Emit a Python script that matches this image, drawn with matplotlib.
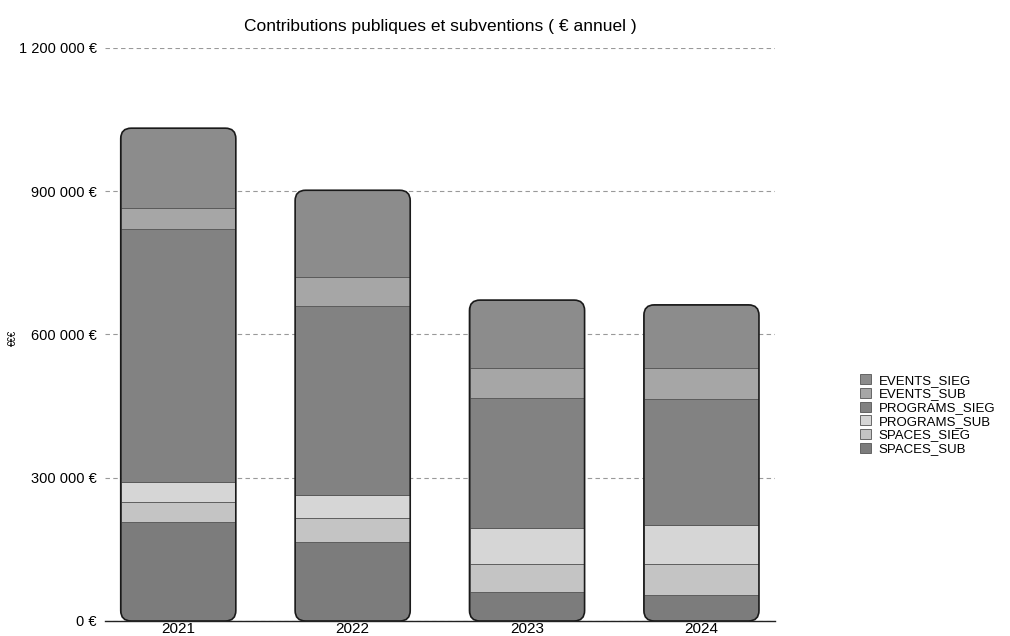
import numpy as np
import matplotlib
matplotlib.use("Agg")
import matplotlib.pyplot as plt
from matplotlib.patches import FancyBboxPatch

plt.rcParams['font.family'] = ['Liberation Sans', 'DejaVu Sans']

years = ["2021", "2022", "2023", "2024"]
# stacked bottom -> top
series_names = ["SPACES_SUB", "SPACES_SIEG", "PROGRAMS_SUB", "PROGRAMS_SIEG", "EVENTS_SUB", "EVENTS_SIEG"]
spaces_sub = [207000, 165000, 60000, 55000]
spaces_sieg = [43000, 50000, 60000, 65000]
programs_sub = [41000, 49000, 75000, 80000]
programs_sieg = [529000, 396000, 272000, 265000]
events_sub = [45000, 60000, 63000, 65000]
events_sieg = [167000, 182000, 142000, 132000]
series_values = [spaces_sub, spaces_sieg, programs_sub, programs_sieg, events_sub, events_sieg]
series_colors = ["#7c7c7c", "#c4c4c4", "#d6d6d6", "#828282", "#a6a6a6", "#8c8c8c"]
yticks = [0, 300000, 600000, 900000, 1200000]
ytick_labels = ["0 €", "300 000 €", "600 000 €", "900 000 €", "1 200 000 €"]
title = "Contributions publiques et subventions ( € annuel )"

fig = plt.figure(figsize=(10.1, 6.36), dpi=100)
ax = fig.add_axes([0.104, 0.0236, 0.663, 0.901])
x = np.arange(len(years))
width = 0.66
ax.set_xlim(-0.42, 3.42)
ax.set_ylim(0, 1200000)

# aspect (data y per data x in display)
bbox = ax.get_position()
w_px = bbox.width * fig.get_figwidth() * fig.dpi
h_px = bbox.height * fig.get_figheight() * fig.dpi
x_per_px = (3.42 + 0.42) / w_px
y_per_px = 1200000 / h_px
aspect = y_per_px / x_per_px

totals = np.sum(np.array(series_values), axis=0)
clips = []
for i in range(len(years)):
    p = FancyBboxPatch((x[i] - width / 2, 0), width, totals[i],
                       boxstyle="round,pad=0,rounding_size=0.06",
                       mutation_aspect=aspect, transform=ax.transData,
                       facecolor="none", edgecolor="#1a1a1a", linewidth=1.2, zorder=4)
    ax.add_patch(p)
    clips.append(p)

bottom = np.zeros(len(years))
handles = []
for name, vals, col in zip(series_names, series_values, series_colors):
    bars = ax.bar(x, vals, width, bottom=bottom, color=col, edgecolor="#555555",
                  linewidth=0.6, label=name, zorder=3)
    for i, b in enumerate(bars):
        b.set_clip_path(clips[i])
    handles.append(bars)
    bottom += np.array(vals)

ax.set_yticks(yticks)
ax.set_yticklabels(ytick_labels, fontsize=10.5)
ax.set_xticks(x)
ax.set_xticklabels(years, fontsize=11)
ax.tick_params(axis='both', length=0, pad=1)
ax.tick_params(axis='y', pad=6)
ax.yaxis.grid(True, linestyle=(0, (4, 3)), color="#999999", linewidth=0.8, zorder=0)
ax.set_axisbelow(True)
for s in ["top", "right", "left"]:
    ax.spines[s].set_visible(False)
ax.spines["bottom"].set_color("#222222")
ax.spines["bottom"].set_linewidth(1.0)

ax.set_title(title, fontsize=12.5, pad=12)
fig.text(0.008, 0.468, "€€€", rotation=90, fontsize=7, va="center", ha="left")

leg = ax.legend(handles[::-1], series_names[::-1], loc="center left",
                bbox_to_anchor=(1.12, 0.36), frameon=False, fontsize=9.5,
                handlelength=0.8, handleheight=0.8, labelspacing=0.08,
                handletextpad=0.6, borderaxespad=0)

fig.savefig("out.png", dpi=100)
